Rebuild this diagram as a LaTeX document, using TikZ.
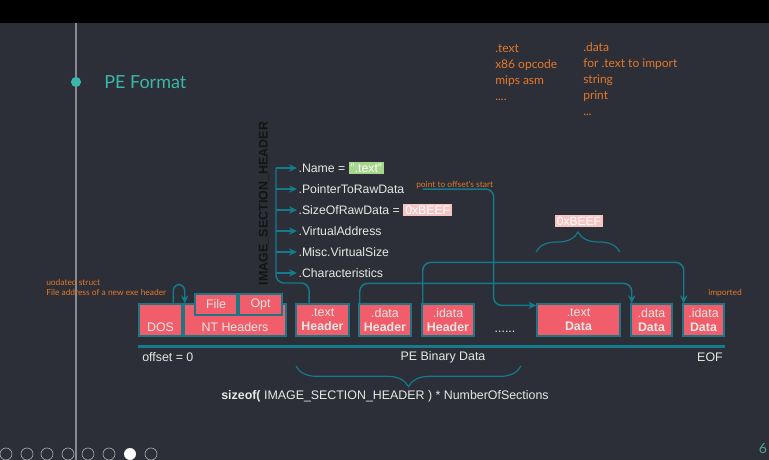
\documentclass[tikz,border=0pt]{standalone}
\usepackage{fontspec}
\setmainfont{Liberation Sans}
\newfontfamily\notefont{Lato}
\usetikzlibrary{positioning,arrows.meta,decorations.pathreplacing}
\definecolor{slidebg}{HTML}{2C2F37}
\definecolor{linkteal}{HTML}{137B8B}
\definecolor{titleteal}{HTML}{3AB7AA}
\definecolor{boxred}{HTML}{F25D6B}
\definecolor{boxedge}{HTML}{1E7584}
\definecolor{notecol}{HTML}{E3782D}
\definecolor{lighttext}{HTML}{E6E9E3}
\definecolor{namegreen}{HTML}{A6D68C}
\definecolor{beefpink}{HTML}{F7C4C4}
\definecolor{railgrey}{HTML}{858A94}
\newcommand\tagbox[2]{{\fboxsep=1.5pt\colorbox{#1}{\textcolor{white}{#2}}}}

\begin{document}
\begin{tikzpicture}[x=0.75pt, y=-0.75pt,
    sect/.style={draw=boxedge, line width=0.9pt, fill=boxred, text=lighttext, minimum height=24pt, inner sep=0pt, align=center, font=\fontsize{9.3}{10.5}\selectfont},
    field/.style={anchor=west, inner sep=1pt, text=lighttext, font=\fontsize{9.2}{10}\selectfont},
    note/.style={text=notecol, inner sep=0pt, align=left, font=\notefont\fontsize{6.3}{7.5}\selectfont},
    caption/.style={text=lighttext, inner sep=0pt, font=\fontsize{9.3}{11}\selectfont},
    link/.style={draw=linkteal, line width=1.1pt, rounded corners=6pt},
    tip/.style={-{Stealth[length=6pt, width=5.5pt]}},
    curly/.style={draw=linkteal, line width=0.9pt, decorate, decoration={brace, amplitude=15pt}}]
    \useasboundingbox (0,0) rectangle (769,460);
    \fill[slidebg] (0,0) rectangle (769,460);
    \fill[black] (0,0) rectangle (769,23);
    % slide frame
    \draw[railgrey, line width=0.8pt] (76,23) -- (76,460);
    \fill[titleteal] (76,82) circle (3.8pt);
    \node[text=titleteal, anchor=west, inner sep=0pt, font=\notefont\fontsize{13.5}{16}\selectfont] (title) at (104,82) {PE Format};
    \foreach \x in {6,27,47,68,88,109,151} {
        \draw[railgrey!70, line width=0.5pt] (\x,454) circle (4.5pt);
    }
    \fill[white] (130,454) circle (4.5pt);
    \node[text=titleteal!60!gray, font=\notefont\fontsize{10.5}{12}\selectfont] (pageno) at (763,449) {6};
    % notes
    \node[note, anchor=north west, font=\notefont\fontsize{9}{12}\selectfont] (textnote) at (495,44) {.text\\x86 opcode\\mips asm\\....};
    \node[note, anchor=north west, font=\notefont\fontsize{9}{12}\selectfont] (datanote) at (583,42) {.data\\for .text to import\\string\\print\\...};
    \node[note, anchor=north west] (dosnote) at (46,279) {uodated struct\\File address of a new exe header};
    \node[note, anchor=west] (impnote) at (708,293) {imported};
    % sections on disk
    \foreach \n/\x/\w/\t in {dos/160.5/43/{\vphantom{.data}\\DOS}, nt/235/102/{\vphantom{.data}\\NT Headers},
            txthdr/322.5/53/{.text\\\textbf{Header}}, dhdr/385/52/{.data\\\textbf{Header}}, ihdr/448/52/{.idata\\\textbf{Header}},
            tdata/578.5/83/{.text\\\textbf{Data}}, ddata/651.5/41/{.data\\\textbf{Data}}, idata/703.5/41/{.idata\\\textbf{Data}}} {
        \node[sect, minimum width=\w*0.75pt] (\n) at (\x,320) {\t};
    }
    \node[sect, minimum width=31.5pt, minimum height=15.75pt] (file) at (216,304.5) {File};
    \node[sect, minimum width=32.25pt, minimum height=15.75pt] (opt) at (260.5,304.5) {Opt};
    \node[caption] (gap) at (505,332) {......};
    \draw[linkteal, line width=2.2pt] ([yshift=-7.5pt]dos.south west) -- ([yshift=-7.5pt]idata.south east);
    \node[caption, anchor=west] (offs) at (142,357) {offset = 0};
    \node[caption] (pebin) at (443,357) {PE Binary Data};
    \node[caption, anchor=east] (eof) at (723,357) {EOF};
    % section header fields
    \node[rotate=90, inner sep=0pt, text=black!92, font=\bfseries\fontsize{9.4}{10}\selectfont] (ish) at (264,203.5) {IMAGE\_SECTION\_HEADER};
    \coordinate (root) at (276,283);
    \foreach \i/\t in {1/{.Name = \tagbox{namegreen}{".text"}}, 2/.PointerToRawData, 3/{.SizeOfRawData = \tagbox{beefpink}{0xBEEF}},
            4/.VirtualAddress, 5/.Misc.VirtualSize, 6/.Characteristics} {
        \node[field] (F\i) at (297,{147+21*\i}) {\t};
        \draw[link, tip] (F\i.west -| root) -- (F\i.west);
    }
    \draw[link] (root |- F1.west) -- (root) -| ([xshift=-10pt]txthdr.north);
    \node[note, anchor=west] (ptrnote) at (416,185) {point to offset's start};
    % links
    \draw[link, tip] ([xshift=5pt]ptrnote.south west) -- ++(71,0) |- ([yshift=-1.5pt]tdata.north west);
    \draw[link, tip] ([xshift=1pt]dhdr.north west) -- ++(0,-20) -| ([xshift=1pt]ddata.north west);
    \draw[link, tip] ([xshift=1pt]ihdr.north west) -- ++(0,-41) -| ([xshift=1pt]idata.north west);
    \draw[link, tip, rounded corners=5pt] ([xshift=-7pt]dos.north east) -- ++(0,-19) -| ([xshift=1pt]nt.north west);
    % sizes
    \draw[curly] (536,252) -- (620,252);
    \node[inner sep=0pt, font=\fontsize{9}{10}\selectfont] (beef) at (579,221) {\tagbox{beefpink}{0xBEEF}};
    \draw[curly, decoration={brace, amplitude=15.5pt}] (521,366) -- (296,366);
    \node[caption] (sizeof) at (385,396) {\textbf{sizeof(} IMAGE\_SECTION\_HEADER ) * NumberOfSections};
\end{tikzpicture}
\end{document}
